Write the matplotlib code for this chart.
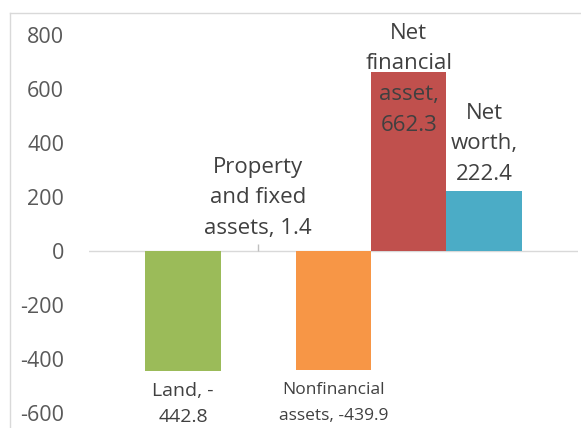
import numpy as np
import matplotlib.pyplot as plt
from matplotlib.lines import Line2D

# Data
categories = ["Land", "Property and fixed assets", "Nonfinancial assets",
              "Net financial asset", "Net worth"]
values = [-442.8, 1.4, -439.9, 662.3, 222.4]
label_texts = ["Land, -\n442.8", "Property\nand fixed\nassets, 1.4",
               "Nonfinancial\nassets, -439.9", "Net\nfinancial\nasset,\n662.3",
               "Net\nworth,\n222.4"]
colors = ["#9BBB59", "#8064A2", "#F79646", "#C0504D", "#4BACC6"]
yticks = [-600, -400, -200, 0, 200, 400, 600, 800]

plt.rcParams['font.family'] = ['Open Sans', 'DejaVu Sans']

W, H = 581, 428
fig = plt.figure(figsize=(W / 100, H / 100), dpi=100)
ax = fig.add_axes([89 / W, 1 - 413 / H, (578 - 89) / W, (413 - 35) / H])

x = np.arange(len(values))
ax.bar(x, values, width=1.0, color=colors, linewidth=0)

ax.set_xlim(-1.25, len(values) + 0.25)
ax.set_ylim(-600, 800)
ax.set_yticks(yticks)
ax.set_yticklabels([str(t) for t in yticks], fontsize=15.5, color="#595959")
ax.tick_params(axis='y', length=0, pad=18)
ax.set_xticks([])
for s in ax.spines.values():
    s.set_visible(False)
ax.axhline(0, color="#D9D9D9", linewidth=1, zorder=0)
# small leader mark for the near-zero bar
ax.vlines(x[1], 0, 25, color="#BFBFBF", linewidth=1)

# data labels: (offset in pixels, vertical alignment, font size, line spacing)
label_style = [(-11, 'top', 14, 1.6), (12, 'bottom', 16, 1.58),
               (-12, 'top', 12.5, 1.85), (-7, 'center', 16, 1.6),
               (6, 'bottom', 16, 1.6)]
for xi, v, txt, (off, va, fs, ls) in zip(x, values, label_texts, label_style):
    ax.annotate(txt, xy=(xi, v), xytext=(0, off), textcoords='offset pixels',
                ha='center', va=va, fontsize=fs, color="#404040",
                linespacing=ls, annotation_clip=False)

# chart area border (left and top edges visible)
fig.add_artist(Line2D([10 / W, 10 / W], [0, 1 - 13 / H], color="#D9D9D9",
                      linewidth=1, transform=fig.transFigure))
fig.add_artist(Line2D([10 / W, 1], [1 - 13 / H, 1 - 13 / H], color="#D9D9D9",
                      linewidth=1, transform=fig.transFigure))

fig.savefig("out.png", dpi=100)
